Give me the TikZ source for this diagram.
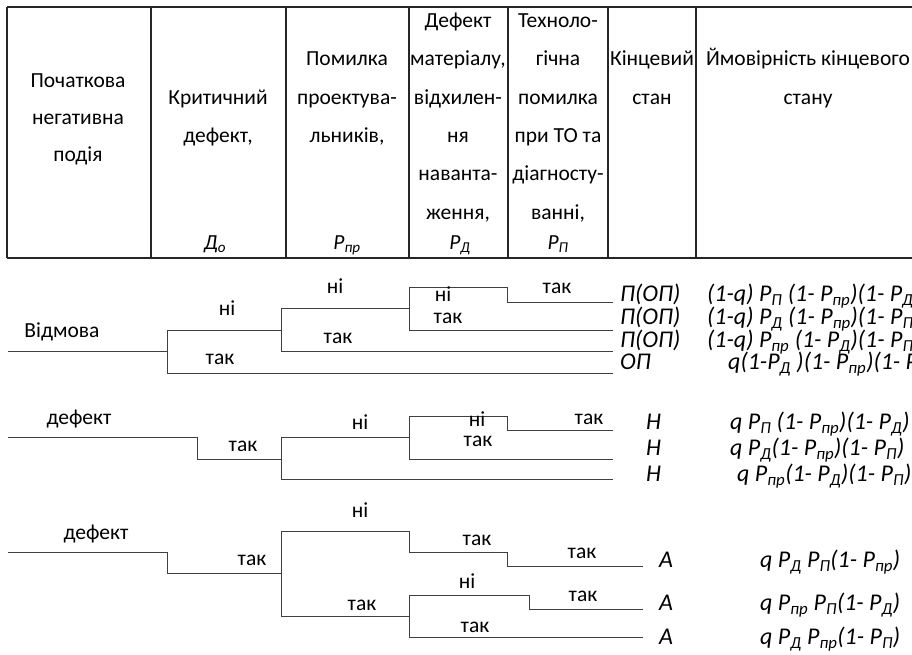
\documentclass[tikz,border=0pt]{standalone}
\usepackage{fontspec}
\setmainfont{Carlito}
\newcommand\sbs[1]{\textsubscript{#1}}
\begin{document}
\begin{tikzpicture}[x=1pt,y=-1pt]
\tikzset{
  tbl/.style={line width=1.2pt, draw=black!85},
  br/.style={line width=1pt, draw=black!75, line join=miter},
  hd/.style={font=\fontsize{21.5}{25}\selectfont, anchor=mid, inner sep=0pt},
  lab/.style={font=\fontsize{21.5}{25}\selectfont, anchor=mid, inner sep=0pt},
  fm/.style={font=\fontsize{24}{28}\selectfont\itshape, anchor=mid west, inner sep=0pt},
}
\useasboundingbox (0,0) rectangle (912,655);
\clip (0,0) rectangle (912,655);
\fill[white] (0,0) rectangle (912,655);
% table
\draw[tbl] (7,7) -- (930,7);
\draw[tbl] (7,258) -- (930,258);
\foreach \xx in {7,151,286,409,508,608,696,920} \draw[tbl] (\xx,7) -- (\xx,258);
% header col 1
\node[hd] (h1a) at (78,85) {Початкова};
\node[hd] (h1b) at (78,122) {негативна};
\node[hd] (h1c) at (78,159) {подія};
% col 2
\node[hd] (h2a) at (218,102) {Критичний};
\node[hd] (h2b) at (218,140) {дефект,};
\node[hd] (h2p) at (215,247) {\itshape Д\sbs{о}};
% col 3
\node[hd] (h3a) at (347,63) {Помилка};
\node[hd] (h3b) at (347,102) {проектува-};
\node[hd] (h3c) at (347,140) {льників,};
\node[hd] (h3p) at (347,247) {\itshape P\sbs{пр}};
% col 4
\node[hd] (h4a) at (458,25) {Дефект};
\node[hd] (h4b) at (458,63) {матеріалу,};
\node[hd] (h4c) at (458,102) {відхилен-};
\node[hd] (h4d) at (458,140) {ня};
\node[hd] (h4e) at (458,178) {наванта-};
\node[hd] (h4f) at (458,217) {ження,};
\node[hd] (h4p) at (460,247) {\itshape P\sbs{Д}};
% col 5
\node[hd] (h5a) at (558,25) {Техноло-};
\node[hd] (h5b) at (558,63) {гічна};
\node[hd] (h5c) at (558,102) {помилка};
\node[hd] (h5d) at (558,140) {при ТО та};
\node[hd] (h5e) at (558,178) {діагносту-};
\node[hd] (h5f) at (558,217) {ванні,};
\node[hd] (h5p) at (558,247) {\itshape P\sbs{П}};
% col 6, 7
\node[hd] (h6a) at (652,63) {Кінцевий};
\node[hd] (h6b) at (652,102) {стан};
\node[hd] (h7a) at (808,63) {Ймовірність кінцевого};
\node[hd] (h7b) at (808,102) {стану};

% ---------- tree 1
\draw[br] (8,351) -- (167,351);
\draw[br] (281,330) -- (167,330) -- (167,373) -- (613,373);
\draw[br] (409,308) -- (281,308) -- (281,351) -- (613,351);
\draw[br] (613,302) -- (507,302) -- (507,287) -- (409,287) -- (409,330) -- (613,330);
\node[lab] (t1a) at (62,335) {Відмова};
\node[lab] (t1b) at (227,313) {ні};
\node[lab] (t1c) at (220,362) {так};
\node[lab] (t1d) at (335,291) {ні};
\node[lab] (t1e) at (338,341) {так};
\node[lab] (t1f) at (443,299) {ні};
\node[lab] (t1g) at (448,321) {так};
\node[lab] (t1h) at (557,291) {так};
\node[fm] (s1a) at (620,299) {П(ОП)};
\node[fm] (s1b) at (620,322) {П(ОП)};
\node[fm] (s1c) at (620,345) {П(ОП)};
\node[fm] (s1d) at (620,367) {ОП};
\node[fm] (f1a) at (707,299) {(1-q) P\sbs{П} (1- P\sbs{пр})(1- P\sbs{Д})};
\node[fm] (f1b) at (707,322) {(1-q) P\sbs{Д} (1- P\sbs{пр})(1- P\sbs{П})};
\node[fm] (f1c) at (707,345) {(1-q) P\sbs{пр} (1- P\sbs{Д})(1- P\sbs{П})};
\node[fm] (f1d) at (728,367) {q(1-P\sbs{Д} )(1- P\sbs{пр})(1- P\sbs{П})};

% ---------- tree 2
\draw[br] (8,437) -- (197,437) -- (197,459) -- (281,459);
\draw[br] (409,437) -- (281,437) -- (281,479) -- (613,479);
\draw[br] (613,430) -- (507,430) -- (507,416) -- (409,416) -- (409,459) -- (613,459);
\node[lab] (t2a) at (79,422) {дефект};
\node[lab] (t2b) at (243,449) {так};
\node[lab] (t2c) at (360,427) {ні};
\node[lab] (t2d) at (477,424) {ні};
\node[lab] (t2e) at (478,444) {так};
\node[lab] (t2f) at (589,422) {так};
\node[fm] (s2a) at (646,427) {Н};
\node[fm] (s2b) at (646,453) {Н};
\node[fm] (s2c) at (646,479) {Н};
\node[fm] (f2a) at (730,427) {q P\sbs{П} (1- P\sbs{пр})(1- P\sbs{Д})};
\node[fm] (f2b) at (730,453) {q P\sbs{Д}(1- P\sbs{пр})(1- P\sbs{П})};
\node[fm] (f2c) at (737,479) {q P\sbs{пр}(1- P\sbs{Д})(1- P\sbs{П})};

% ---------- tree 3
\draw[br] (8,552) -- (167,552) -- (167,573) -- (281,573);
\draw[br] (643,566) -- (507,566) -- (507,552) -- (409,552) -- (409,531) -- (281,531) -- (281,616) -- (409,616);
\draw[br] (643,609) -- (529,609) -- (529,595) -- (409,595) -- (409,637) -- (643,637);
\node[lab] (t3a) at (96,537) {дефект};
\node[lab] (t3b) at (252,563) {так};
\node[lab] (t3c) at (360,515) {ні};
\node[lab] (t3d) at (477,543) {так};
\node[lab] (t3e) at (582,556) {так};
\node[lab] (t3f) at (362,608) {так};
\node[lab] (t3g) at (467,586) {ні};
\node[lab] (t3h) at (583,599) {так};
\node[lab] (t3i) at (475,630) {так};
\node[fm] (s3a) at (659,565) {А};
\node[fm] (s3b) at (659,608) {А};
\node[fm] (s3c) at (659,642) {А};
\node[fm] (f3a) at (760,565) {q P\sbs{Д} P\sbs{П}(1- P\sbs{пр})};
\node[fm] (f3b) at (760,608) {q P\sbs{пр} P\sbs{П}(1- P\sbs{Д})};
\node[fm] (f3c) at (760,642) {q P\sbs{Д} P\sbs{пр}(1- P\sbs{П})};
\end{tikzpicture}
\end{document}
